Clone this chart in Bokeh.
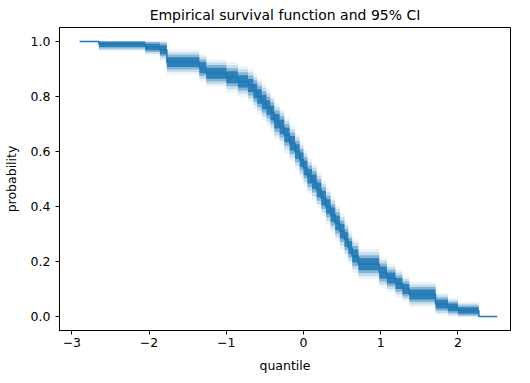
import numpy as np
from bokeh.plotting import figure
from bokeh.models import Range1d, FixedTicker, NumeralTickFormatter, CustomJSTickFormatter
from bokeh.embed import file_html
from bokeh.resources import INLINE

# Empirical survival function: step positions (quantile) and survival probability after each step
quantile = [-2.90, -2.65, -2.05, -1.86, -1.77, -1.35, -1.26, -1.00, -0.85, -0.72,
            -0.65, -0.60, -0.54, -0.48, -0.43, -0.38, -0.31, -0.25, -0.18, -0.11,
            -0.05, 0.00, 0.05, 0.11, 0.17, 0.23, 0.29, 0.35, 0.41, 0.47,
            0.53, 0.58, 0.63, 0.71, 0.98, 1.08, 1.19, 1.28, 1.37, 1.71,
            1.87, 2.00, 2.27, 2.51]
probability = [1.00, 0.99, 0.98, 0.97, 0.925, 0.905, 0.885, 0.87, 0.855, 0.84,
               0.82, 0.80, 0.78, 0.76, 0.74, 0.71, 0.69, 0.66, 0.63, 0.60,
               0.57, 0.54, 0.51, 0.49, 0.46, 0.43, 0.40, 0.37, 0.34, 0.31,
               0.28, 0.25, 0.22, 0.19, 0.16, 0.14, 0.12, 0.10, 0.08, 0.045,
               0.033, 0.022, 0.0, 0.0]
# half-width of the 95% CI band (outer extent) at each step
ci_halfwidth = [0.0, 0.025, 0.03, 0.04, 0.045, 0.05, 0.05, 0.055, 0.055, 0.06,
                0.065, 0.065, 0.065, 0.065, 0.065, 0.065, 0.065, 0.065, 0.065, 0.065,
                0.065, 0.065, 0.065, 0.065, 0.065, 0.065, 0.065, 0.065, 0.065, 0.065,
                0.065, 0.06, 0.06, 0.055, 0.055, 0.05, 0.05, 0.045, 0.045, 0.04,
                0.035, 0.03, 0.0, 0.0]

x_ticks = [-3, -2, -1, 0, 1, 2]
y_ticks = [0.0, 0.2, 0.4, 0.6, 0.8, 1.0]

BLUE = "#1f77b4"
FONT = "DejaVu Sans"

p = figure(width=512, height=375, output_backend="svg", toolbar_location=None,
           x_range=Range1d(-3.16, 2.68), y_range=Range1d(-0.051, 1.051),
           min_border_left=59, min_border_right=2, min_border_top=20, min_border_bottom=44,
           title="Empirical survival function and 95% CI")

q = np.array(quantile)
s = np.array(probability)
hw = np.array(ci_halfwidth)
for frac, alpha in [(1.0, 0.08), (0.8, 0.18), (0.6, 0.4), (0.4, 0.85)]:
    lo = np.clip(s - hw * frac, 0, 1)
    hi = np.clip(s + hw * frac, 0, 1)
    p.varea_step(x=q, y1=lo, y2=hi, step_mode="after", fill_color=BLUE, fill_alpha=alpha)

p.step(x=q, y=s, mode="after", line_color=BLUE, line_width=1.5)

p.grid.visible = False
p.outline_line_color = "black"
p.outline_line_width = 1
p.background_fill_color = "white"
p.border_fill_color = "white"

p.title.text_font = FONT
p.title.text_font_size = "14px"
p.title.text_font_style = "normal"
p.title.align = "center"
p.title.text_color = "black"
p.title.standoff = 9

for ax in (p.xaxis[0], p.yaxis[0]):
    ax.axis_line_color = "black"
    ax.major_tick_line_color = "black"
    ax.major_tick_out = 4
    ax.major_tick_in = 0
    ax.minor_tick_line_color = None
    ax.major_label_text_font = FONT
    ax.major_label_text_font_size = "12.5px"
    ax.major_label_text_color = "black"
    ax.axis_label_text_font = FONT
    ax.axis_label_text_font_size = "12.5px"
    ax.axis_label_text_font_style = "normal"
    ax.axis_label_text_color = "black"

p.xaxis.ticker = FixedTicker(ticks=x_ticks)
p.yaxis.ticker = FixedTicker(ticks=y_ticks)
p.yaxis.formatter = NumeralTickFormatter(format="0.0")
p.xaxis.formatter = CustomJSTickFormatter(code="return tick < 0 ? '\u2212' + Math.abs(tick) : String(tick);")
p.xaxis.axis_label = "quantile"
p.yaxis.axis_label = "probability"
p.xaxis.major_label_standoff = 3
p.yaxis.major_label_standoff = 5
p.xaxis.axis_label_standoff = 8
p.yaxis.axis_label_standoff = 9

open("out.html", "w").write(file_html(p, INLINE))
